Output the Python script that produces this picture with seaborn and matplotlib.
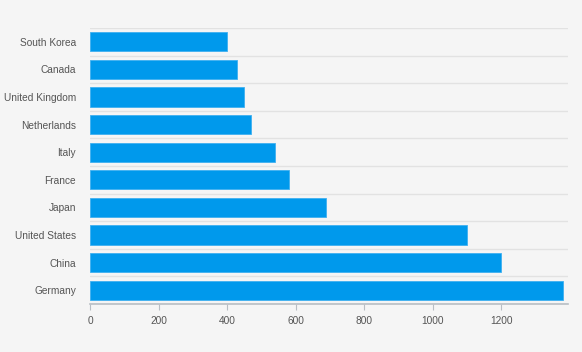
import matplotlib
matplotlib.use("Agg")
import matplotlib.pyplot as plt
import seaborn as sns
import numpy as np
import pandas as pd

countries = ["South Korea", "Canada", "United Kingdom", "Netherlands", "Italy",
             "France", "Japan", "United States", "China", "Germany"]
values = [400, 430, 448, 470, 540, 580, 690, 1100, 1200, 1380]
x_ticks = [0, 200, 400, 600, 800, 1000, 1200]

sns.set_theme(style="white")
plt.rcParams["font.family"] = ["Liberation Sans", "DejaVu Sans"]

bg = "#f5f5f5"
fig = plt.figure(figsize=(5.82, 3.52), dpi=100, facecolor=bg)
ax = fig.add_axes([90/582, (352-304)/352, (568-90)/582, (304-28)/352])
ax.set_facecolor(bg)

df = pd.DataFrame({"country": countries, "value": values})
sns.barplot(data=df, y="country", x="value", orient="h", color="#0099ec",
            saturation=1, width=0.69, edgecolor="#3fb0f0", linewidth=0.6, ax=ax)

ax.set_xlim(0, 1395)
ax.set_ylim(len(countries) - 0.5, -0.5)
ax.set_xticks(x_ticks)
ax.set_xticklabels([str(t) for t in x_ticks])
ax.set_yticks(np.arange(-0.5, len(countries), 1), minor=True)
ax.grid(False)
ax.grid(True, which="minor", axis="y", color="#e2e2e2", linewidth=1)
ax.set_axisbelow(True)
ax.set_xlabel("")
ax.set_ylabel("")
for s in ["top", "right", "left"]:
    ax.spines[s].set_visible(False)
ax.spines["bottom"].set_color("#b8bec4")
ax.spines["bottom"].set_linewidth(1.2)
ax.tick_params(axis="x", which="major", length=4, width=0.8, color="#b8bec4",
               labelsize=7.3, labelcolor="#555555", pad=5, bottom=True)
ax.tick_params(axis="y", which="both", length=0, labelsize=7.3,
               labelcolor="#555555", pad=10)

fig.savefig("out.png", dpi=100, facecolor=bg)
